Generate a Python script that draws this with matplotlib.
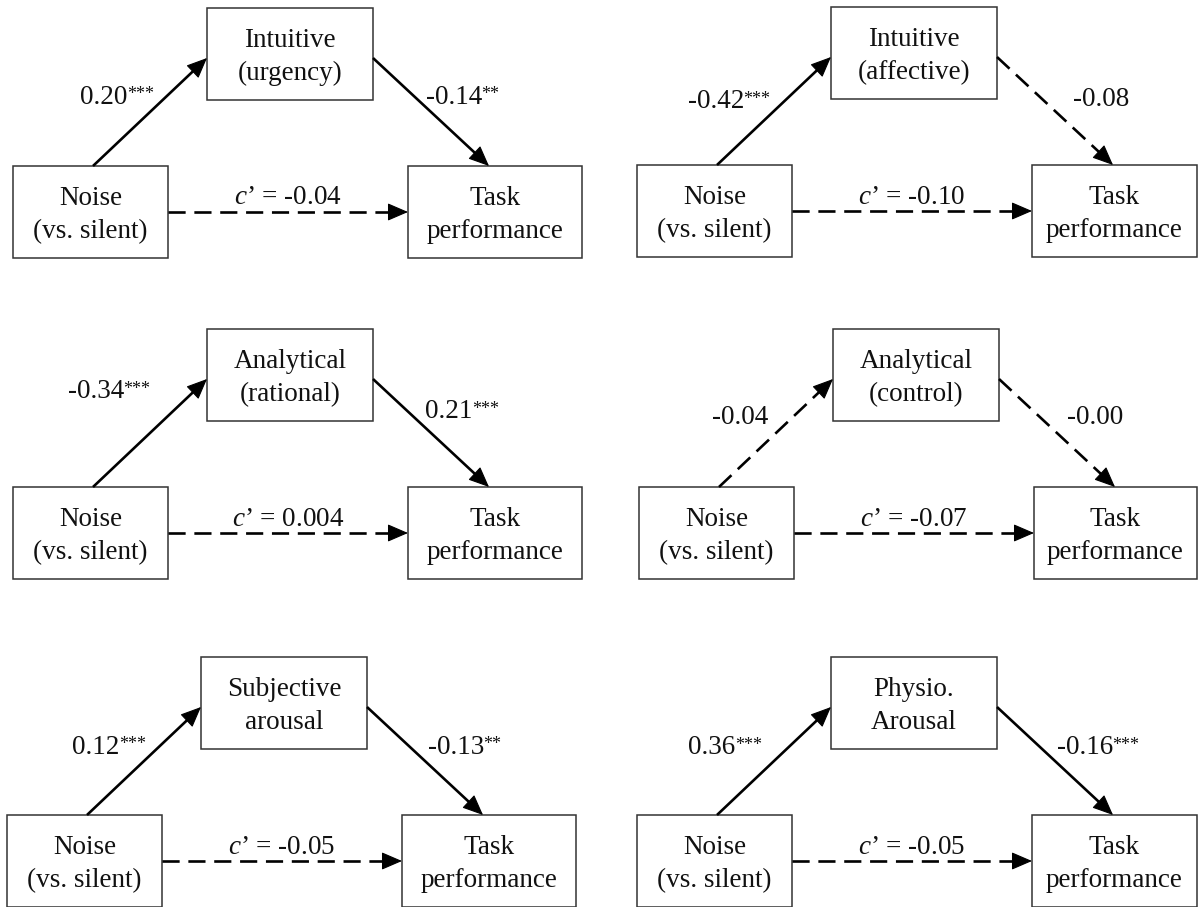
import numpy as np
import matplotlib
matplotlib.use("Agg")
import matplotlib.pyplot as plt
from matplotlib.patches import Rectangle

plt.rcParams['font.family'] = ['Liberation Serif', 'DejaVu Serif']
plt.rcParams['mathtext.fontset'] = 'custom'
plt.rcParams['mathtext.rm'] = 'Liberation Serif'
plt.rcParams['mathtext.it'] = 'Liberation Serif:italic'

# Mediator names and path coefficients, one entry per panel
mediators = ["Intuitive\n(urgency)", "Intuitive\n(affective)",
             "Analytical\n(rational)", "Analytical\n(control)",
             "Subjective\narousal", "Physio.\nArousal"]
a_coef = ["0.20", "-0.42", "-0.34", "-0.04", "0.12", "0.36"]
a_sig = ["***", "***", "***", "", "***", "***"]
b_coef = ["-0.14", "-0.08", "0.21", "-0.00", "-0.13", "-0.16"]
b_sig = ["**", "", "***", "", "**", "***"]
c_prime = ["-0.04", "-0.10", "0.004", "-0.07", "-0.05", "-0.05"]

# Panel layout (pixels): left edge of noise box, top of mediator box
panel_x = [13, 637, 13, 639, 7, 637]
panel_y = [8, 7, 329, 329, 657, 657]
a_lab = [(106, 89), (94, 95), (98, 63), (101, 89), (104, 90), (90, 91)]
b_lab = [(56, 89), (69, 93), (56, 83), (61, 89), (64, 90), (68, 91)]

W, H = 1199, 907
fig = plt.figure(figsize=(W / 100, H / 100), dpi=100)
ax = fig.add_axes([0, 0, 1, 1])
ax.set_xlim(0, W)
ax.set_ylim(H, 0)
ax.axis('off')

FS = 19.5
DASH = (0, (6.5, 3.3))
INK = '#111111'


def box(x, y, w, h, label):
    ax.add_patch(Rectangle((x, y), w, h, fill=False, edgecolor='#333333', lw=1.1))
    ax.text(x + w / 2, y + h / 2 + 3, label, ha='center', va='center',
            fontsize=FS, linespacing=1.45, color=INK)


def arrow(x0, y0, x1, y1, dashed):
    d = np.hypot(x1 - x0, y1 - y0)
    ux, uy = (x1 - x0) / d, (y1 - y0) / d
    hl = 16
    ax.plot([x0, x1 - ux * hl * 0.8], [y0, y1 - uy * hl * 0.8], color='black',
            lw=1.9, ls=DASH if dashed else '-', solid_capstyle='butt',
            dash_capstyle='butt')
    ax.annotate('', xy=(x1, y1), xytext=(x1 - ux * hl, y1 - uy * hl),
                arrowprops=dict(arrowstyle='-|>,head_length=0.65,head_width=0.28',
                                mutation_scale=20, color='black', lw=0.8,
                                shrinkA=0, shrinkB=0))


def coef_text(x, y, val, sig):
    t = ax.text(x - 5 * len(sig), y, val, ha='center', va='center',
                fontsize=FS, color=INK)
    if sig:
        ax.annotate(sig, xy=(0.99, 0.95), xycoords=t, ha='left', va='top',
                    fontsize=13, color=INK)


for i in range(6):
    nx, my = panel_x[i], panel_y[i]
    mx = nx + 194
    tx = nx + 395
    ny = my + 158
    tw = min(174, W - 2 - tx)
    box(nx, ny, 155, 92, "Noise\n(vs. silent)")
    box(mx, my, 166, 92, mediators[i])
    box(tx, ny, tw, 92, "Task\nperformance")

    arrow(nx + 80, ny, mx, my + 50, a_sig[i] == "")
    arrow(mx + 166, my + 50, tx + 81, ny, b_sig[i] == "")
    arrow(nx + 155, ny + 46, tx, ny + 46, True)

    coef_text(nx + a_lab[i][0], my + a_lab[i][1], a_coef[i], a_sig[i])
    coef_text(tx + b_lab[i][0], my + b_lab[i][1], b_coef[i], b_sig[i])
    ax.text((nx + 155 + tx) / 2, ny + 32, "$c$\u2019 = " + c_prime[i],
            ha='center', va='center', fontsize=FS, color=INK)

fig.savefig("out.png", dpi=100)
